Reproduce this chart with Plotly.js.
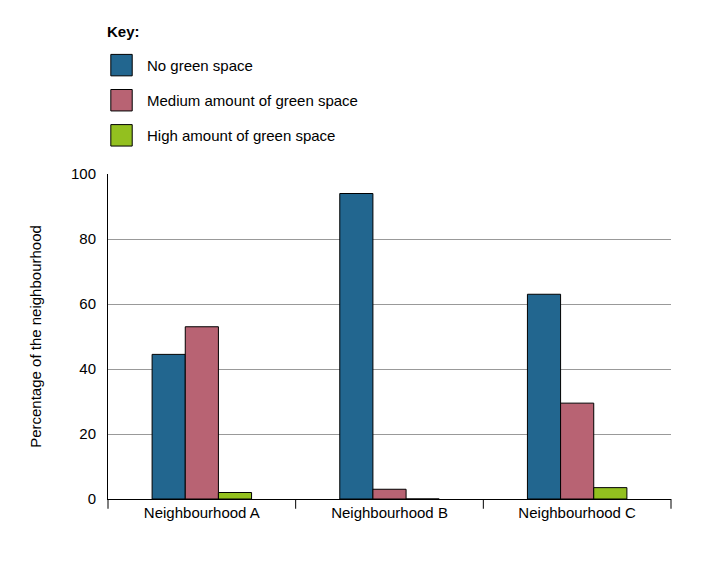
<!DOCTYPE html>
<html><head><script src="https://cdn.plot.ly/plotly-3.0.1.min.js"></script></head>
<body style="margin:0">
<div id="c" style="width:706px;height:567px"></div>
<script>
const categories = ["Neighbourhood A", "Neighbourhood B", "Neighbourhood C"];
const seriesNames = ["No green space", "Medium amount of green space", "High amount of green space"];
const noGreen = [44.5, 94, 63];
const mediumGreen = [53, 3, 29.5];
const highGreen = [2, 0, 3.5];
const yTicks = [0, 20, 40, 60, 80, 100];
const colors = ["#22668f", "#b86373", "#93c01f"];
const values = [noGreen, mediumGreen, highGreen];
const F = "Liberation Sans, Arial, sans-serif";
const traces = values.map((v, i) => ({
  type: "bar", x: categories, y: v, name: seriesNames[i],
  marker: {color: colors[i], line: {color: "#000", width: 1}}, showlegend: false
}));
const shapes = [];
[0, 1/3, 2/3, 1].forEach(p => shapes.push({type: "line", xref: "paper", yref: "paper", x0: p, x1: p, y0: 0, y1: -0.03, line: {color: "#000", width: 1}}));
const annotations = [{xref: "paper", yref: "paper", x: -0.005, y: 1.44, xanchor: "left", yanchor: "middle", text: "<b>Key:</b>", showarrow: false, font: {family: F, size: 15, color: "#000"}}];
seriesNames.forEach((n, i) => {
  const yc = 1.335 - i * 0.108;
  shapes.push({type: "rect", xref: "paper", yref: "paper", x0: 0.005, x1: 0.043, y0: yc - 0.033, y1: yc + 0.033, fillcolor: colors[i], line: {color: "#000", width: 1}});
  annotations.push({xref: "paper", yref: "paper", x: 0.065, y: yc, xanchor: "left", yanchor: "middle", text: n, showarrow: false, font: {family: F, size: 15, color: "#000"}});
});
Plotly.newPlot("c", traces, {
  width: 706, height: 567, margin: {l: 108, r: 35, t: 174, b: 68},
  paper_bgcolor: "#fff", plot_bgcolor: "#fff",
  barmode: "group", bargap: 0.47, bargroupgap: 0,
  font: {family: F, size: 15, color: "#000"},
  xaxis: {showgrid: false, showline: true, linecolor: "#000", ticks: "", tickfont: {size: 15}, ticklen: 0},
  yaxis: {range: [0, 100], tickvals: yTicks, showgrid: true, gridcolor: "#999", showline: true, linecolor: "#000", ticks: "", ticklabelstandoff: 8, zeroline: false,
    title: {text: "Percentage of the neighbourhood", font: {size: 15}, standoff: 25}},
  shapes, annotations
}, {displayModeBar: false});
</script></body></html>
